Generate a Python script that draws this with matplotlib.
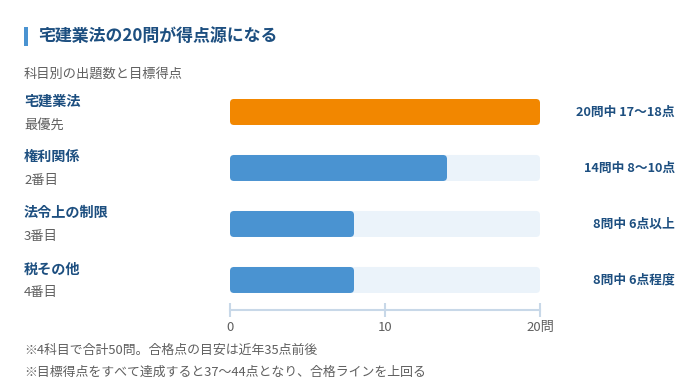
import matplotlib
matplotlib.use("Agg")
import matplotlib.pyplot as plt
from matplotlib.patches import FancyBboxPatch, Rectangle
from matplotlib.transforms import blended_transform_factory

plt.rcParams['font.family'] = ['Noto Sans CJK JP', 'DejaVu Sans']

# data
subjects = ["宅建業法", "権利関係", "法令上の制限", "税その他"]
ranks = ["最優先", "2番目", "3番目", "4番目"]
questions = [20, 14, 8, 8]
targets = ["20問中 17〜18点", "14問中 8〜10点", "8問中 6点以上", "8問中 6点程度"]
max_q = 20
xticks = [0, 10, 20]
xtick_labels = ["0", "10", "20問"]

title = "宅建業法の20問が得点源になる"
subtitle = "科目別の出題数と目標得点"
notes = ["※4科目で合計50問。合格点の目安は近年35点前後",
         "※目標得点をすべて達成すると37〜44点となり、合格ラインを上回る"]

NAVY = "#1d4f80"
GRAY = "#5f5f5f"
ORANGE = "#f28700"
BLUE = "#4a93d1"
TRACK = "#ebf3fa"
AXIS = "#c8d8e8"

fig = plt.figure(figsize=(7, 3.8), dpi=100)
W, H = 700, 380
ax = fig.add_axes([230 / W, (H - 310) / H, 310 / W, 225 / H])
ax.set_xlim(0, max_q)
ax.set_ylim(3.536, -0.482)

bar_h = 0.464
aspect = (310 / max_q) / 56.0  # y-units per px over x-units per px
rx = 4 / (310 / max_q)

for i, q in enumerate(questions):
    track = FancyBboxPatch((0, i - bar_h / 2), max_q, bar_h,
                           boxstyle=f"round,pad=0,rounding_size={rx}",
                           mutation_aspect=aspect, fc=TRACK, ec="none")
    ax.add_patch(track)
    col = ORANGE if i == 0 else BLUE
    bar = FancyBboxPatch((0, i - bar_h / 2), q, bar_h,
                         boxstyle=f"round,pad=0,rounding_size={rx}",
                         mutation_aspect=aspect, fc=col, ec="none")
    ax.add_patch(bar)

for s in ["top", "left", "right"]:
    ax.spines[s].set_visible(False)
ax.spines["bottom"].set_color(AXIS)
ax.spines["bottom"].set_linewidth(1.5)
ax.set_yticks([])
ax.set_xticks(xticks)
ax.set_xticklabels(xtick_labels)
ax.tick_params(axis="x", direction="inout", length=10, width=1.5, color=AXIS,
               labelcolor=GRAY, labelsize=9.5, pad=3)

tr = blended_transform_factory(fig.transFigure, ax.transData)
for i in range(len(subjects)):
    ax.text(24 / W, i - 0.19, subjects[i], transform=tr, ha="left", va="center",
            fontsize=10.2, fontweight="bold", color=NAVY)
    ax.text(24 / W, i + 0.23, ranks[i], transform=tr, ha="left", va="center",
            fontsize=9.5, color=GRAY)
    ax.text(675 / W, i, targets[i], transform=tr, ha="right", va="center",
            fontsize=9.2, fontweight="bold", color=NAVY)

# title with accent bar
fig.patches.append(Rectangle((24 / W, (H - 46) / H), 4 / W, 19 / H,
                             transform=fig.transFigure, fc=BLUE, ec="none"))
fig.text(38 / W, (H - 36) / H, title, ha="left", va="center",
         fontsize=12.2, fontweight="bold", color=NAVY)
fig.text(24 / W, (H - 74) / H, subtitle, ha="left", va="center",
         fontsize=9.5, color=GRAY)
for k, n in enumerate(notes):
    fig.text(24 / W, (H - 350 - 22 * k) / H, n, ha="left", va="center",
             fontsize=9.3, color=GRAY)

fig.savefig("out.png", dpi=100)
